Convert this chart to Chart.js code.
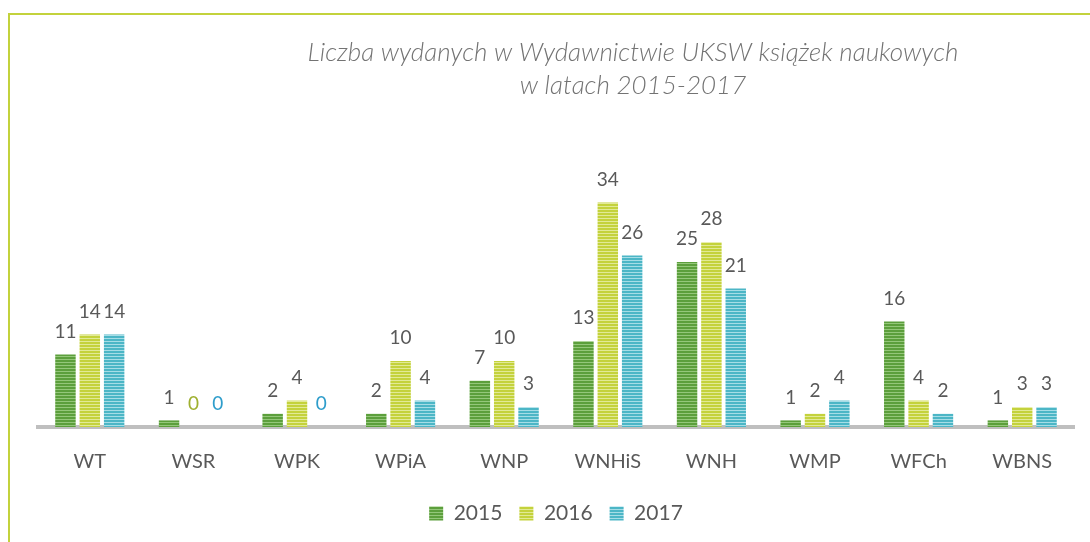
<!DOCTYPE html>
<html>
<head>
<meta charset="utf-8">
<script src="https://cdn.jsdelivr.net/npm/chart.js@4/dist/chart.umd.min.js"></script>
<style>
  html, body { margin: 0; padding: 0; background: #fff; }
  #wrap { position: relative; width: 1090px; height: 542px; }
  #frame { position: absolute; left: 8px; top: 13px; right: 0; bottom: 0;
           border-left: 2px solid #c3d23c; border-top: 2px solid #c3d23c; }
  canvas { position: absolute; left: 0; top: 0; }
</style>
</head>
<body>
<div id="wrap">
  <div id="frame"></div>
  <canvas id="chart" width="1090" height="542"></canvas>
</div>
<script>
const wydzialy = ["WT", "WSR", "WPK", "WPiA", "WNP", "WNHiS", "WNH", "WMP", "WFCh", "WBNS"];
const lata = ["2015", "2016", "2017"];
const ksiazki2015 = [11, 1, 2, 2, 7, 13, 25, 1, 16, 1];
const ksiazki2016 = [14, 0, 4, 10, 10, 34, 28, 2, 4, 3];
const ksiazki2017 = [14, 0, 0, 4, 3, 26, 21, 4, 2, 3];
const tytul = ["Liczba wydanych w Wydawnictwie UKSW książek naukowych", "w latach 2015-2017"];

// kolory: ciemny pasek, jasny pasek, kolor etykiety zera
const kolory = [
  { ciemny: "#5c9f3c", jasny: "#94c77a", zero: "#5c9f3c" },
  { ciemny: "#c4d23c", jasny: "#e2ea96", zero: "#9fb030" },
  { ciemny: "#4cb6c6", jasny: "#a6dde6", zero: "#2e9dcb" }
];

function paski(k) {
  const c = document.createElement("canvas");
  c.width = 4; c.height = 3;
  const ctx = c.getContext("2d");
  ctx.fillStyle = k.ciemny;
  ctx.fillRect(0, 0, 4, 2);
  ctx.fillStyle = k.jasny;
  ctx.fillRect(0, 2, 4, 1);
  return document.getElementById("chart").getContext("2d").createPattern(c, "repeat");
}

const etykiety = {
  id: "etykiety",
  afterDatasetsDraw(chart) {
    const ctx = chart.ctx;
    ctx.save();
    ctx.font = "19px Lato";
    ctx.textAlign = "center";
    ctx.textBaseline = "middle";
    chart.data.datasets.forEach((ds, i) => {
      const meta = chart.getDatasetMeta(i);
      meta.data.forEach((bar, j) => {
        const v = ds.data[j];
        ctx.fillStyle = v === 0 ? kolory[i].zero : "#595959";
        ctx.fillText(v, bar.x, bar.y - 23);
      });
    });
    ctx.restore();
  }
};

const naglowek = {
  id: "naglowek",
  afterDraw(chart) {
    const ctx = chart.ctx;
    ctx.save();
    ctx.font = "italic 300 26px Lato";
    ctx.fillStyle = "#737373";
    ctx.textAlign = "center";
    ctx.textBaseline = "middle";
    tytul.forEach((t, i) => ctx.fillText(t, 633, 53 + i * 33));
    ctx.restore();
  }
};

const serie = [ksiazki2015, ksiazki2016, ksiazki2017];

new Chart(document.getElementById("chart"), {
  type: "bar",
  data: {
    labels: wydzialy,
    datasets: lata.map((rok, i) => ({
      label: rok,
      data: serie[i],
      backgroundColor: paski(kolory[i]),
      borderWidth: 0,
      categoryPercentage: 0.705,
      barPercentage: 0.84
    }))
  },
  options: {
    responsive: false,
    animation: false,
    layout: { padding: { top: 163, left: 38, right: 16, bottom: 8 } },
    scales: {
      x: {
        grid: { display: false, drawTicks: false },
        border: { display: true, color: "#bfbfbf", width: 4 },
        ticks: { color: "#595959", font: { family: "Lato", size: 20 }, padding: 23 },
        afterFit(scale) { scale.height -= 11; }
      },
      y: { display: false, min: 0, max: 40 }
    },
    plugins: {
      legend: {
        position: "bottom",
        labels: {
          color: "#595959",
          font: { family: "Lato", size: 21 },
          boxWidth: 14,
          boxHeight: 14,
          padding: 17
        }
      },
      tooltip: { enabled: false }
    }
  },
  plugins: [etykiety, naglowek]
});
</script>
</body>
</html>
